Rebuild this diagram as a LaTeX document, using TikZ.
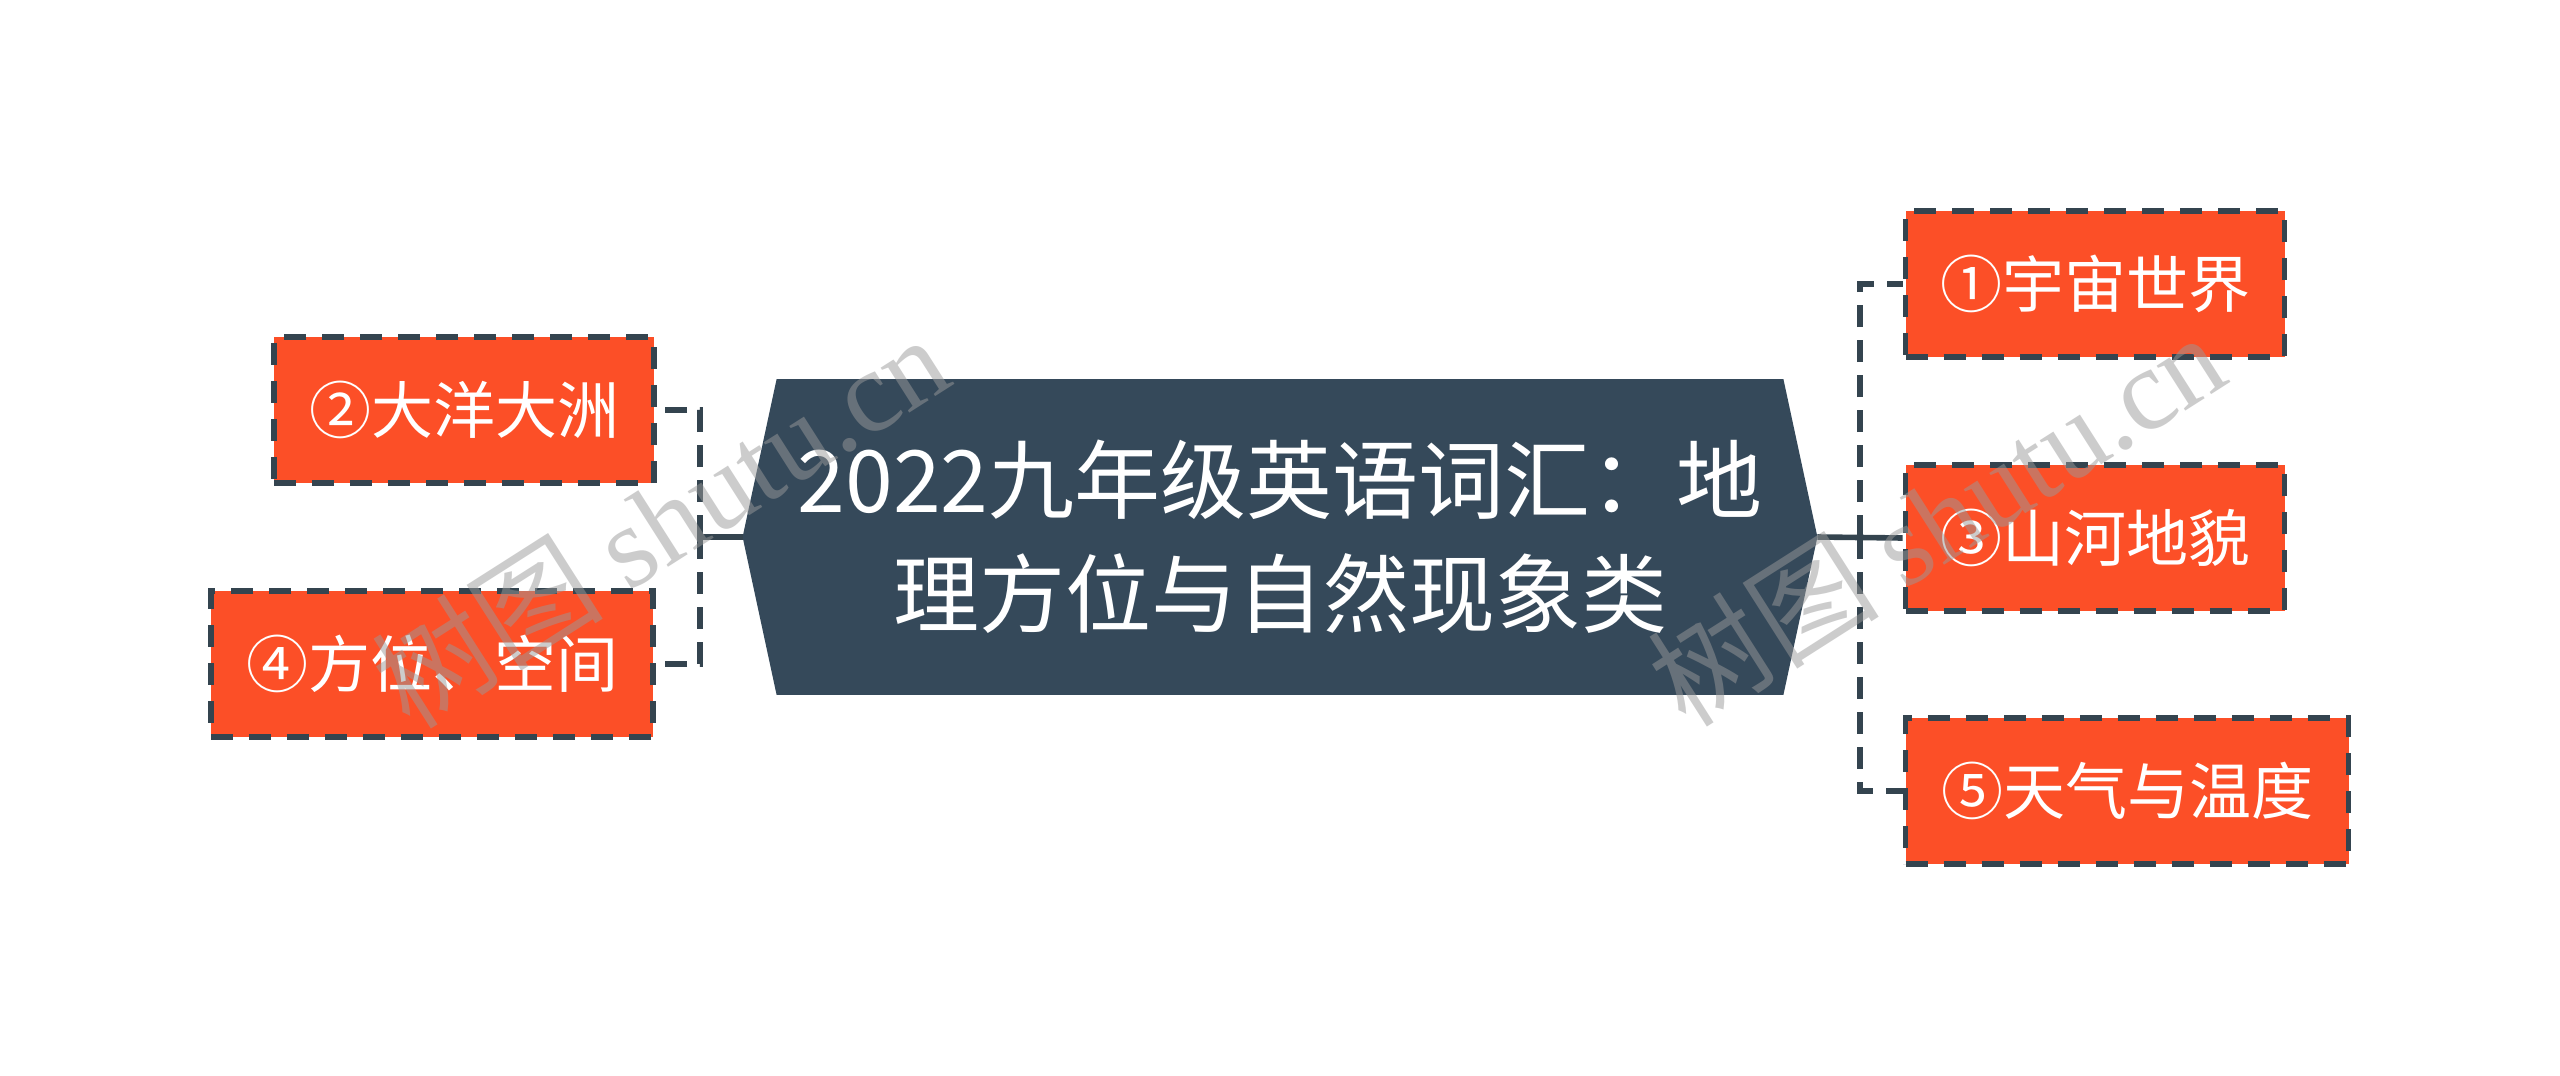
\documentclass[tikz,border=0pt]{standalone}
\usepackage{fontspec}
\newfontfamily\cjk{Noto Sans CJK SC}
\newfontfamily\wmserif{Liberation Serif}
\definecolor{hexfill}{HTML}{35495A}
\definecolor{linedark}{HTML}{34444F}
\definecolor{boxorange}{HTML}{FC4F27}
\definecolor{wmgray}{HTML}{9A9A9A}
\begin{document}
\begin{tikzpicture}[x=0.5pt,y=-0.5pt,
  box/.style={rectangle, fill=boxorange, draw=linedark, line width=2.9pt,
    dash pattern=on 11pt off 8pt, minimum height=73pt, inner sep=0pt,
    text=white, font=\cjk\fontsize{31}{37}\selectfont},
  conn/.style={draw=linedark, line width=3.3pt, dash pattern=on 11pt off 6.5pt},
  trunk/.style={draw=linedark, line width=2.8pt},
  wm/.style={rotate=32.5, text=wmgray, opacity=0.5, inner sep=0pt}
]
\useasboundingbox (0,0) rectangle (2560,1076);
\fill[white] (0,0) rectangle (2560,1076);
% central hexagon
\node[minimum width=537pt, minimum height=157.5pt, inner sep=0pt] (root) at (1280,537) {};
\fill[hexfill] (root.west) -- ([xshift=17pt]root.north west) -- ([xshift=-17pt]root.north east)
  -- (root.east) -- ([xshift=-17pt]root.south east) -- ([xshift=17pt]root.south west) -- cycle;
\node[text=white, align=center, inner sep=0pt, font=\cjk\fontsize{43}{57}\selectfont] (title) at (root.center)
  {2022九年级英语词汇：地\\理方位与自然现象类};
% child boxes
\node[box, minimum width=190pt] (b2) at (464,410) {②大洋大洲};
\node[box, minimum width=221pt] (b4) at (432,664) {④方位、空间};
\node[box, minimum width=189.5pt] (b1) at (2095,284) {①宇宙世界};
\node[box, minimum width=189.5pt] (b3) at (2095,538) {③山河地貌};
\node[box, minimum width=221.5pt] (b5) at (2127,791) {⑤天气与温度};
% connectors
\coordinate (jl) at (700,537);
\coordinate (jr) at (1860,537);
\draw[trunk] (root.west) -- (jl);
\draw[conn] (jl) |- (b2.east);
\draw[conn] (jl) |- (b4.east);
\draw[conn] (jr) |- (b1.west);
\draw[conn] (jr) |- (b5.west);
\draw[trunk] (root.east) -- (b3.west);
% watermarks
\node[wm] (wm1) at (660,520) {\fontsize{58}{58}\selectfont\cjk 树图 \wmserif shutu.cn};
\node[wm] (wm2) at (1936,518) {\fontsize{58}{58}\selectfont\cjk 树图 \wmserif shutu.cn};
\end{tikzpicture}
\end{document}
